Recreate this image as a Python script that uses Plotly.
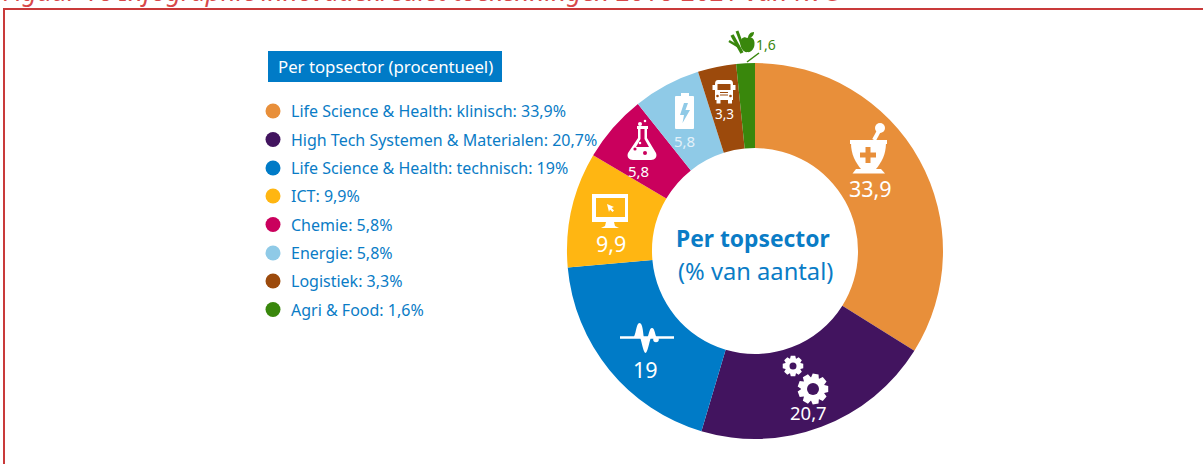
import math
import plotly.graph_objects as go

# ---------- data ----------
sectors = ["Life Science & Health: klinisch", "High Tech Systemen & Materialen",
           "Life Science & Health: technisch", "ICT", "Chemie", "Energie", "Logistiek", "Agri & Food"]
values = [33.9, 20.7, 19, 9.9, 5.8, 5.8, 3.3, 1.6]
value_labels = ["33,9", "20,7", "19", "9,9", "5,8", "5,8", "3,3", "1,6"]
legend_values = ["33,9%", "20,7%", "19%", "9,9%", "5,8%", "5,8%", "3,3%", "1,6%"]
colors = ["#E88F3A", "#42145F", "#007BC7", "#FFB612", "#CA005D", "#8FCAE7", "#9C4A0C", "#39870C"]
title_text = "Figuur 16 Infographic innovatiekrediet toekenningen 2016-2021 van RVO"
legend_title = "Per topsector (procentueel)"
center_title = "Per topsector"
center_sub = "(% van aantal)"

# ---------- styling / layout ----------
W, H = 1203, 464
FONT = "Noto Sans"
BLUE = "#0A7CC6"
RED = "#C93A3A"
CX, CY, R, R_IN = 755, 251, 188, 103
LEG_Y = [111, 139.5, 168, 196, 224.5, 253, 281, 309.5]
LABEL_POS = [(870, 188, 21.5), (808, 412, 18.5), (645, 369, 21.5), (611, 243, 21.5),
             (638, 171, 15), (684, 141, 15), (724, 114, 13.5), (766, 44, 14)]
LABEL_COL = ["white", "white", "white", "white", "white", "#E3F1F9", "white", colors[7]]

fig = go.Figure()
fig.add_trace(go.Pie(
    labels=sectors, values=values, sort=False, direction="clockwise", rotation=0,
    hole=R_IN / R, textinfo="none", hoverinfo="skip", showlegend=False,
    marker=dict(colors=colors, line=dict(width=0)),
    domain=dict(x=[(CX - R) / W, (CX + R) / W], y=[1 - (CY + R) / H, 1 - (CY - R) / H]),
))
fig.add_trace(go.Scatter(
    x=[273] * len(sectors), y=LEG_Y, mode="markers", hoverinfo="skip", showlegend=False,
    marker=dict(size=15, color=colors, line=dict(width=0)),
))

shapes, ann = [], []

def path(d, fill, line=None, lw=0):
    shapes.append(dict(type="path", path=d, fillcolor=fill, xref="x", yref="y", layer="above",
                       line=dict(color=line or fill, width=lw)))

def circle(cx, cy, r, fill):
    shapes.append(dict(type="circle", x0=cx - r, x1=cx + r, y0=cy - r, y1=cy + r, xref="x", yref="y",
                       fillcolor=fill, layer="above", line=dict(width=0)))

def rect(x0, y0, x1, y1, fill):
    shapes.append(dict(type="rect", x0=x0, x1=x1, y0=y0, y1=y1, xref="x", yref="y",
                       fillcolor=fill, layer="above", line=dict(width=0)))

def seg(x0, y0, x1, y1, col, lw):
    shapes.append(dict(type="line", x0=x0, x1=x1, y0=y0, y1=y1, xref="x", yref="y",
                       layer="above", line=dict(color=col, width=lw)))

def gear(cx, cy, ro, ri, hole, teeth, bg):
    pts = []
    for i in range(teeth):
        a = 2 * math.pi * i / teeth
        w = math.pi / teeth
        for da, r in ((-w * 0.95, ri), (-w * 0.55, ro), (w * 0.55, ro), (w * 0.95, ri)):
            pts.append((cx + r * math.cos(a + da), cy + r * math.sin(a + da)))
    path("M" + " L".join(f"{x:.2f},{y:.2f}" for x, y in pts) + " Z", "white")
    circle(cx, cy, hole, bg)

# border
shapes.append(dict(type="rect", x0=4, y0=9, x1=W + 20, y1=H + 20, xref="x", yref="y", layer="below",
                   line=dict(color=RED, width=2), fillcolor="rgba(0,0,0,0)"))
# legend header
shapes.append(dict(type="rect", x0=268, y0=51, x1=502, y1=82, xref="x", yref="y", layer="below",
                   fillcolor="#007BC7", line=dict(width=0)))

# mortar
circle(880, 128, 5, "white")
seg(880, 129, 874, 140, "white", 4)
rect(850, 140, 887, 144, "white")
path("M851,143 L886,143 C886,155 881,163 876,169 L861,169 C856,163 851,155 851,143 Z", "white")
path("M856,169 L881,169 L885,173.5 L852.5,173.5 Z", "white")
rect(860, 152.5, 876, 157.5, colors[0])
rect(865.5, 147, 870.5, 163, colors[0])

# gears
gear(793, 366, 10.5, 8, 3.5, 8, colors[1])
gear(813, 389, 15.5, 12, 6, 9, colors[1])

# pulse
seg(620, 337.5, 674, 337.5, "white", 2.5)
path("M633,338 C636,336 636,323 639.5,323 C643,323 643,334 644,338 Z", "white")
path("M640,337 L651,337 C649,343 647.5,353 645.5,353 C643.5,353 642,343 640,337 Z", "white")
path("M647,338 C649,336 649,328 652,328 C655,328 655,336 657,338 Z", "white")
circle(656, 339.5, 2.8, "white")

# monitor
rect(592, 194, 628, 222, "white")
rect(596, 198, 625, 217, colors[3])
path("M606,222 L614,222 L615,226 L619,228 L601,228 L605,226 Z", "white")
path("M607,204 L614,207 L611.5,208 L614,210.5 L612.5,212 L610,209.5 L609,212 Z", "white")

# flask
circle(640, 124, 2, "white")
circle(645, 121, 1.3, "white")
rect(637, 126, 648, 129, "white")
path("M638,128 L647,128 L647,138 L656,153 C657.5,157 655,160 651,160 L633,160 C629,160 626.5,157 628,153 L638,138 Z", "white")
path("M640.5,129 L644.5,129 L644.5,139 L649,147 L636,147 L640.5,139 Z", colors[4])
circle(635, 149, 1.6, colors[4])
circle(645, 153, 2, colors[4])
circle(640, 143, 1.3, "white")

# battery
path("M676,96 L693,96 Q694,96 694,97 L694,128 Q694,129 693,129 L676,129 Q675,129 675,128 L675,97 Q675,96 676,96 Z", "white")
rect(681, 93, 689, 96, "white")
path("M684,103 L680,115 L684,115 L682.5,123 L690,110 L685.5,110 L688,103 Z", colors[5])

# truck
path("M718,80 L730,80 Q733,80 733,84 L733,100 L715,100 L715,84 Q715,80 718,80 Z", "white")
rect(717.5, 84, 730.5, 90, colors[6])
rect(712.5, 85, 715, 90, "white")
rect(733, 85, 735.5, 90, "white")
rect(716.5, 100, 720.5, 103.5, "white")
rect(728, 100, 732, 103.5, "white")
rect(720, 92, 728, 93, colors[6])
rect(720, 94.5, 728, 95.5, colors[6])
circle(717.5, 96, 1.3, colors[6])
circle(730.5, 96, 1.3, colors[6])

# agri & food
AG = colors[7]
seg(732, 35, 742, 53, AG, 3.5)
seg(737, 31, 743, 47, AG, 3)
seg(729, 41, 739, 47, AG, 2.5)
path("M747,38 C751,36 755,39 754.5,44 C754.5,49 750.5,53 747.5,52 C744,53 740,48 740.5,43 C740.5,38 744.5,36 747,38 Z", AG)
path("M748,38 C748,35 750,32 754,32 C754,36 751,38 748,38 Z", AG)
seg(747, 62, 759, 53, AG, 1.5)

def text(x, y, s, size, col, anchor="left", bold=False, ya="middle", italic=False):
    ann.append(dict(x=x, y=y, xref="x", yref="y", text=f"<b>{s}</b>" if bold else s, showarrow=False,
                    xanchor=anchor, yanchor=ya,
                    font=dict(family=FONT, size=size, color=col, style="italic" if italic else "normal")))

text(1, 11, title_text, 26, "#D8484A", ya="bottom", italic=True)
text(276, 66, legend_title, 16.8, "white")
for s, v, y in zip(sectors, legend_values, LEG_Y):
    text(289, y, f"{s}: {v}", 16, BLUE)
for lab, (x, y, sz), c in zip(value_labels, LABEL_POS, LABEL_COL):
    text(x, y, lab, sz, c, anchor="center")
text(753, 238, center_title, 22.8, BLUE, anchor="center", bold=True)
text(755, 271, center_sub, 23.7, BLUE, anchor="center")

fig.update_layout(
    width=W, height=H, margin=dict(l=0, r=0, t=0, b=0),
    paper_bgcolor="white", plot_bgcolor="rgba(0,0,0,0)", showlegend=False,
    xaxis=dict(range=[0, W], visible=False, fixedrange=True),
    yaxis=dict(range=[H, 0], visible=False, fixedrange=True),
    shapes=shapes, annotations=ann,
)
fig.write_html("out.html", config=dict(displayModeBar=False),
               post_script="document.body.style.margin='0';")
